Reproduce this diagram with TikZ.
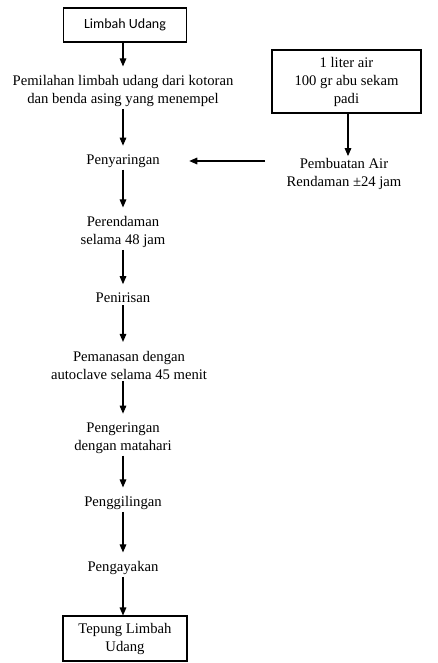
\documentclass[tikz,border=0pt]{standalone}
\usepackage{fontspec}
\setmainfont{Liberation Serif}
\newfontfamily\boxsans{Carlito}
\usetikzlibrary{arrows.meta}
\begin{document}
\begin{tikzpicture}[x=0.75pt,y=-0.75pt,
  txt/.style={align=center,inner xsep=0pt,inner ysep=1.5pt,font=\fontsize{11}{13.5}\selectfont},
  boxed/.style={draw,line width=0.8pt,align=center,font=\fontsize{11}{13.5}\selectfont},
  arr/.style={-{Triangle[length=6pt,width=5pt]},line width=0.8pt,shorten >=5pt}]
\useasboundingbox (0,0) rectangle (438,663);
\node[boxed,minimum width=92.25pt,minimum height=25.5pt,font=\boxsans\fontsize{10.5}{13.5}\selectfont] (lu) at (125,25) {Limbah Udang};
\node[txt] (pem) at (123,91) {Pemilahan limbah udang dari kotoran\\dan benda asing yang menempel};
\node[txt] (pny) at (123,161) {Penyaringan};
\node[txt] (prd) at (123,232) {Perendaman\\selama 48 jam};
\node[txt] (pnr) at (123,298) {Penirisan};
\node[txt] (pms) at (129,365) {Pemanasan dengan\\autoclave selama 45 menit};
\node[txt] (pgr) at (123,438) {Pengeringan\\dengan matahari};
\node[txt] (pgl) at (123,503) {Penggilingan};
\node[txt] (pgy) at (123,568) {Pengayakan};
\node[boxed,minimum width=93pt,minimum height=33.75pt] (tlu) at (125,638.5) {Tepung Limbah\\Udang};
\node[boxed,minimum width=111.75pt,minimum height=47.25pt] (air) at (346.5,81.5) {1 liter air\\100 gr abu sekam\\padi};
\node[txt] (pba) at (344,174) {Pembuatan Air\\Rendaman \textpm24 jam};
\draw[arr] (lu.south -| pem.north) -- (pem.north);
\draw[arr] (pem.south) -- (pny.north);
\draw[arr] (pny.south) -- (prd.north);
\draw[arr] (prd.south) -- (pnr.north);
\draw[arr] (pnr.south) -- (pnr.south |- pms.north);
\draw[arr] (pms.south -| pnr.south) -- (pgr.north);
\draw[arr] (pgr.south) -- (pgl.north);
\draw[arr] (pgl.south) -- (pgy.north);
\draw[arr,shorten >=0pt] (pgy.south) -- (pgy.south |- tlu.north);
\draw[arr,shorten >=0pt] (air.south -| pba.north) ++(4,0) coordinate (as) (as) -- (as |- pba.north);
\draw[arr,shorten >=0pt] ([xshift=-16pt]pba.west |- pny.east) -- ([xshift=22pt]pny.east);
\end{tikzpicture}
\end{document}
